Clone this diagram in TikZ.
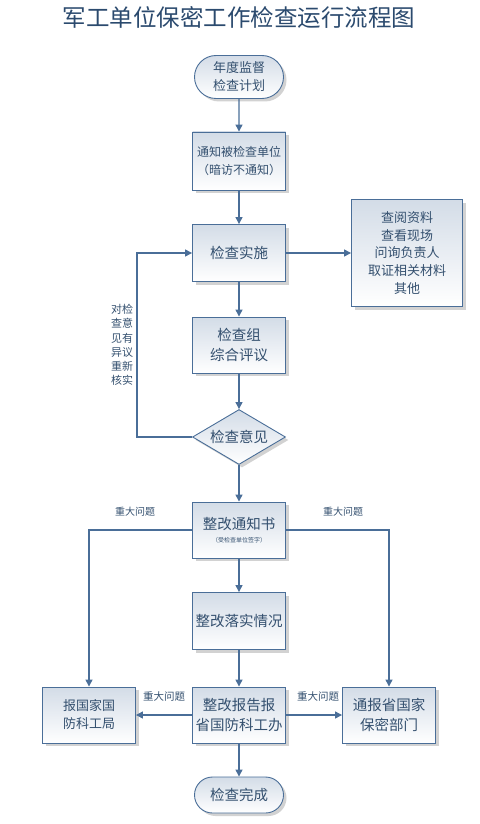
\documentclass[tikz,border=0pt]{standalone}
\usepackage{fontspec}
\setmainfont{Noto Sans CJK SC}
\usetikzlibrary{arrows.meta,positioning,shapes.geometric,shapes.misc,shadows}
\definecolor{lineblue}{HTML}{4A6E98}
\definecolor{inkblue}{HTML}{34506F}
\definecolor{titleblue}{HTML}{2B4A6E}
\definecolor{boxtop}{HTML}{D3DCE7}

\begin{document}
\begin{tikzpicture}[x=1pt,y=-1pt,>={Triangle[length=7pt,width=7pt]},
  box/.style={draw=lineblue,line width=.9pt,top color=boxtop,bottom color=white,
    text=inkblue,align=center,minimum width=93pt,minimum height=56pt,inner sep=2pt,
    drop shadow={shadow xshift=3pt,shadow yshift=-3pt,fill=black!35}},
  term/.style={box,rounded rectangle,minimum height=43pt},
  choice/.style={box,diamond,aspect=1.7,minimum width=93pt,minimum height=55pt,inner sep=0pt},
  big/.style={font=\fontsize{14.5}{20}\selectfont},
  small/.style={font=\fontsize{13}{18}\selectfont},
  note/.style={text=inkblue,font=\fontsize{10}{12}\selectfont},
  flow/.style={draw=lineblue,line width=1.3pt,->}]
\useasboundingbox (0,0) rectangle (479,824);
\node[text=titleblue,font=\fontsize{23.5}{26}\selectfont] (title) at (239,18) {军工单位保密工作检查运行流程图};
% main column
\node[term,small] (plan) at (239,77) {年度监督\\检查计划};
\node[box,font=\fontsize{12}{18}\selectfont,minimum height=58pt] (notify) at (239,161) {通知被检查单位\\（暗访不通知）};
\node[box,big,minimum height=57pt] (impl) at (239,253) {检查实施};
\node[box,font=\fontsize{13}{17.7}\selectfont,minimum width=111pt,minimum height=107pt] (ways) at (407,253) {查阅资料\\查看现场\\问询负责人\\取证相关材料\\其他};
\node[box,big] (review) at (239,345) {检查组\\综合评议};
\node[choice,big] (opinion) at (239,437) {检查意见};
\node[box] (notice) at (239,530) {\fontsize{14.5}{20}\selectfont 整改通知书\\[1pt]\fontsize{6}{8}\selectfont（受检查单位签字）};
\node[box,big,minimum height=57pt] (fix) at (239,621) {整改落实情况};
\node[box,big] (report) at (239,715) {整改报告报\\省国防科工办};
\node[box,small] (bureau) at (89,715) {报国家国\\防科工局};
\node[box,big] (secret) at (389,715) {通报省国家\\保密部门};
\node[term,big,minimum height=36pt] (done) at (239,795) {检查完成};
% labels
\node[note,font=\fontsize{11}{14.2}\selectfont,align=center] (recheck) at (122,345) {对检\\查意\\见有\\异议\\重新\\核实};
\node[note] (majorA) at (135,512) {重大问题};
\node[note] (majorB) at (343,512) {重大问题};
\node[note,font=\fontsize{10.5}{12}\selectfont] (majorC) at (164,697) {重大问题};
\node[note,font=\fontsize{10.5}{12}\selectfont] (majorD) at (318,697) {重大问题};
% connectors
\draw[flow] (plan)--(notify);
\draw[flow] (notify)--(impl);
\draw[flow] (impl)--(ways);
\draw[flow] (impl)--(review);
\draw[flow] (review)--(opinion);
\draw[flow] (opinion)--(notice);
\draw[flow] (notice)--(fix);
\draw[flow] (fix)--(report);
\draw[flow] (report)--(bureau);
\draw[flow] (report)--(secret);
\draw[flow] (report)--(done);
\coordinate (back) at (137,437);
\draw[flow] (opinion.west)--(back)|-(impl.west);
\draw[flow] (notice.west)-|(bureau.north);
\draw[flow] (notice.east)-|(secret.north);
\end{tikzpicture}
\end{document}
